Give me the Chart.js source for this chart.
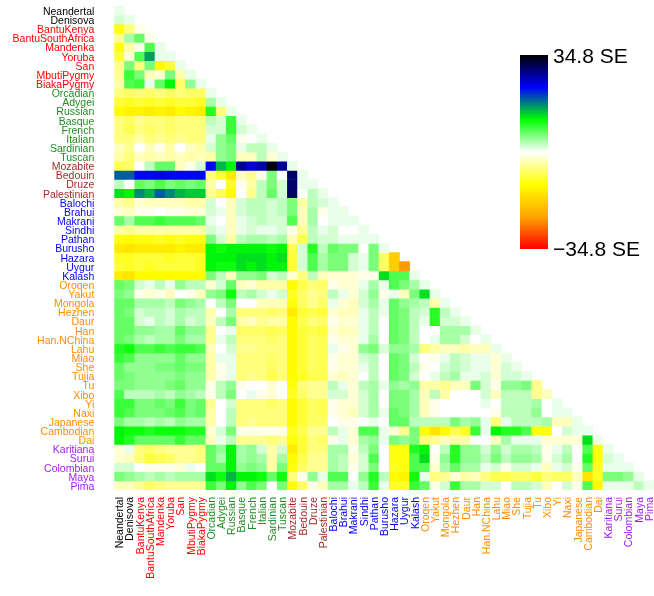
<!DOCTYPE html>
<html>
<head>
<meta charset="utf-8">
<script src="https://cdn.jsdelivr.net/npm/chart.js@4.4.1/dist/chart.umd.min.js"></script>
<style>
  html, body { margin: 0; padding: 0; background: #ffffff; }
  #wrap { width: 654px; height: 596px; position: relative; }
</style>
</head>
<body>
<div id="wrap"><canvas id="heat" width="654" height="596"></canvas></div>
<script>
// Populations, in row / column order
const populations = [
  'Neandertal', 'Denisova',
  'BantuKenya', 'BantuSouthAfrica', 'Mandenka', 'Yoruba', 'San', 'MbutiPygmy', 'BiakaPygmy',
  'Orcadian', 'Adygei', 'Russian', 'Basque', 'French', 'Italian', 'Sardinian', 'Tuscan',
  'Mozabite', 'Bedouin', 'Druze', 'Palestinian',
  'Balochi', 'Brahui', 'Makrani', 'Sindhi', 'Pathan', 'Burusho', 'Hazara', 'Uygur', 'Kalash',
  'Oroqen', 'Yakut', 'Mongola', 'Hezhen', 'Daur', 'Han', 'Han.NChina', 'Lahu', 'Miao', 'She',
  'Tujia', 'Tu', 'Xibo', 'Yi', 'Naxi', 'Japanese', 'Cambodian', 'Dai',
  'Karitiana', 'Surui', 'Colombian', 'Maya', 'Pima'
];

// Region sizes (in order) and their label colours
const regionSizes  = [2, 7, 8, 4, 9, 18, 5];
const regionColors = ['#000000', '#ff0000', '#228b22', '#a52a2a', '#0000ff', '#ff8c00', '#a020f0'];

// Statistic in SE units; row k holds columns 1..k (diagonal last)
const rowNeandertal = [1];
const rowDenisova = [2, 1];
const rowBantuKenya = [-11, -6, -1];
const rowBantuSouthAfrica = [-5, 4, 7, -1];
const rowMandenka = [-11, -4, -1, 8, 1];
const rowYoruba = [-9, -2, 8, 16, 1, 1];
const rowSan = [-5, 6, -6, 6, -12, -9, 1];
const rowMbutiPygmy = [-5, 9, 6, -3, -2, 6, -4, 1];
const rowBiakaPygmy = [-4, 8, 9, 1, 7, 12, -7, 5, 1];
const rowOrcadian = [-6, -7, -6, -7, -6, -7, -6, -7, -7, 1];
const rowAdygei = [-9, -10, -9, -10, -9, -10, -9, -9, -10, 4, 1];
const rowRussian = [-12, -13, -13, -14, -13, -14, -12, -13, -14, 10, -6, 1];
const rowBasque = [-6, -7, -5, -6, -6, -7, -6, -6, -6, 3, 2, 9, 1];
const rowFrench = [-6, -8, -6, -7, -6, -7, -6, -6, -6, 2, 2, 9, 2, 1];
const rowItalian = [-6, -6, -4, -6, -5, -6, -5, -6, -6, 1, 5, 7, -1, 0, 1];
const rowSardinian = [-3, -5, 0, -3, -1, -4, 0, -3, -4, 2, 5, 6, 1, 3, 3, 1];
const rowTuscan = [-4, -6, -3, -4, -3, -4, -3, -4, -3, -4, 5, 6, -3, -3, 3, -2, 1];
const rowMozabite = [-8, -7, 0, 3, 7, 7, -3, -1, 2, 23, 15, 12, 28, 25, 27, 34, 28, 1];
const rowBedouin = [19, 19, 23, 23, 24, 23, 23, 23, 23, -6, -9, -14, -3, -5, -1, 6, 0, 30, 1];
const rowDruze = [3, 0, 7, 6, 8, 6, 7, 6, 7, -4, 0, -10, -1, -4, 3, 6, 2, 30, 1, 1];
const rowPalestinian = [13, 12, 17, 15, 19, 17, 15, 14, 14, -5, -8, -12, 0, -5, 3, 7, 2, 30, 0, 3, 1];
const rowBalochi = [-4, -5, -2, -3, -3, -3, -3, -4, -4, 2, 0, -3, 2, 3, 3, 2, 3, 6, -4, 3, 2, 1];
const rowBrahui = [-2, -3, -1, -1, 0, -1, -1, -2, -2, 2, 1, -3, 2, 3, 3, 2, 3, 6, -3, 4, -1, 1, 1];
const rowMakrani = [7, 4, 8, 8, 9, 8, 8, 8, 7, 1, 0, -3, 1, 2, 3, 2, 2, 8, -3, 4, 0, 1, 1, 1];
const rowSindhi = [-4, -5, -4, -4, -4, -4, -4, -4, -4, 2, 1, -3, 1, 2, 1, 1, 2, -1, -5, 3, 1, 2, 0, 0, 1];
const rowPathan = [-11, -12, -11, -11, -10, -11, -10, -11, -11, 6, 2, -4, 3, 4, 4, 3, 4, -3, -8, 3, 2, 2, 1, 1, 1, 1];
const rowBurusho = [-14, -15, -14, -14, -14, -14, -13, -14, -14, 12, 11, 12, 12, 12, 12, 11, 12, -8, 2, 10, 3, 7, 6, 6, 0, 6, 1];
const rowHazara = [-10, -10, -9, -9, -9, -10, -9, -9, -10, 12, 12, 12, 13, 13, 13, 12, 13, -9, 2, 8, 4, 6, 6, 2, 1, 6, -7, -18];
const rowUygur = [-9, -10, -9, -10, -9, -9, -9, -9, -10, 12, 11, 11, 13, 12, 13, 12, 12, -9, 2, 8, 4, 6, 6, 2, 1, 6, -7, -18, -24];
const rowKalash = [-14, -15, -12, -12, -12, -12, -12, -12, -12, 6, 3, -3, 5, 5, 6, 2, 3, -2, -6, 3, -3, -2, -2, -2, -1, -1, 13, 8, 8, 1];
const rowOroqen = [7, 6, 2, 1, 3, 1, 5, 3, 3, -2, 2, 7, -3, -2, -4, -4, -4, -12, -8, -6, -7, -1, -2, -2, 1, 4, 1, 8, 6, 4, 1];
const rowYakut = [6, 5, -1, -2, -1, -3, 0, -1, -3, 5, 6, 11, 3, 4, 2, 1, 2, -10, -7, -5, -6, 3, 1, -2, 2, 5, -1, 1, -3, 6, 13, 1];
const rowMongola = [7, 7, 4, 4, 4, 3, 6, 5, 4, 0, 3, 6, 0, 0, -3, -3, -3, -11, -7, -5, -7, 1, -2, -3, 2, 4, 1, 7, 5, 4, 3, -4, 1];
const rowHezhen = [7, 6, 2, 3, 3, 2, 4, 3, 3, -4, 0, 4, -6, -6, -6, -7, -6, -14, -9, -8, -9, -2, -3, -3, 1, 3, 1, 7, 6, 3, 2, 10, 3, 1];
const rowDaur = [7, 7, 2, 1, 3, 2, 4, 2, 3, -3, 3, 6, -4, -3, -5, -4, -4, -12, -8, -6, -7, -1, -2, -2, 1, 3, 0, 7, 6, 3, 1, 10, 2, 2, 1];
const rowHan = [7, 7, 5, 5, 4, 4, 7, 5, 5, -5, 0, 1, -7, -7, -7, -8, -7, -12, -9, -8, -9, -2, -3, -3, 1, 3, 0, 7, 6, 3, 0, 0, 4, 4, 4, 1];
const rowHanNChina = [7, 6, 4, 3, 4, 4, 6, 4, 4, -5, 1, 3, -6, -6, -6, -7, -6, -12, -9, -7, -8, -1, -2, -2, 1, 4, 0, 7, 6, 3, 0, 1, 4, 4, 2, 0, 1];
const rowLahu = [10, 11, 8, 8, 9, 8, 9, 9, 8, -3, 0, 2, -5, -5, -6, -6, -6, -12, -9, -7, -8, 1, -1, -2, 5, 6, 2, 5, 5, 4, -6, -4, -3, -3, -4, -3, -3, 1];
const rowMiao = [9, 8, 5, 5, 5, 5, 7, 5, 5, -4, 1, 1, -6, -6, -6, -7, -6, -12, -9, -7, -8, -1, -2, -2, 2, 3, 0, 7, 6, 2, 0, -1, 1, 3, 2, 1, 1, -2, 1];
const rowShe = [7, 5, 5, 5, 6, 6, 7, 6, 6, -4, -1, 1, -6, -6, -6, -7, -6, -12, -9, -7, -8, -1, -2, -2, 1, 3, 0, 7, 6, 3, -1, 0, 2, 3, 2, 1, 1, -2, 2, 1];
const rowTujia = [7, 6, 5, 5, 5, 5, 6, 5, 5, -4, -1, 1, -6, -5, -6, -8, -6, -12, -10, -8, -8, -2, -3, -2, 0, 3, 0, 7, 6, 2, 0, 1, 3, 4, 1, 1, 2, -2, 2, 2, 1];
const rowTu = [6, 6, 5, 5, 5, 6, 7, 5, 5, -1, 3, 5, -1, 0, 0, -2, 0, -11, -6, -5, -5, 3, 1, -2, 3, 4, 1, 5, 4, 5, -4, -4, -5, -3, -3, 6, 2, -1, 5, 5, 6, -5];
const rowXibo = [8, 3, 3, 3, 4, 3, 5, 4, 3, -1, 3, 6, 0, 1, -1, -2, 0, -10, -7, -5, -5, 2, 2, -2, 2, 4, 0, 6, 6, 4, -3, 3, -4, 0, 0, 0, 2, -3, 3, 3, 3, -5, -3];
const rowYi = [9, 9, 6, 6, 7, 6, 9, 6, 7, -5, 0, 2, -6, -6, -6, -7, -6, -12, -9, -7, -8, -1, -2, -2, 2, 4, 0, 6, 6, 4, -3, -1, 0, 0, 0, 0, 1, 0, 3, 3, 3, 4, 0, 1];
const rowNaxi = [9, 8, 6, 6, 6, 7, 8, 6, 7, -4, 0, 3, -6, -6, -6, -6, -6, -12, -9, -7, -8, -1, -2, -3, 2, 4, 1, 7, 6, 4, -3, -1, 0, 0, 0, 0, 0, -1, 3, 3, 3, 5, 0, 1, 1];
const rowJapanese = [6, 4, 4, 3, 4, 3, 5, 4, 4, -4, 0, 3, -6, -5, -6, -6, -6, -12, -9, -7, -7, 0, -1, -1, 0, 1, 0, 7, 7, 3, 3, 3, 3, 6, 4, 5, 1, -6, 1, 3, 3, 3, 4, -3, -3, 1];
const rowCambodian = [12, 11, 11, 10, 11, 11, 11, 10, 10, -2, 2, 6, -1, -1, -1, -1, -1, -10, -8, -5, -5, 3, 1, -2, 8, 8, 1, -2, -5, 6, -11, -15, -12, -8, -10, 9, 1, 12, 10, 10, 8, -11, -11, 0, 2, 1, 1];
const rowDai = [12, 10, 7, 7, 7, 7, 9, 7, 7, -3, 1, 3, -5, -5, -5, -6, -5, -11, -9, -6, -7, -1, 1, -2, 4, 5, 1, 6, 5, 6, -6, -5, -3, -4, -4, 0, 0, -3, 4, 1, 1, 1, -2, -2, -2, -2, 13, 1];
const rowKaritiana = [-2, 1, -6, -7, -6, -5, -5, -5, -6, 7, 5, 12, 4, 5, 2, -4, 2, -14, -9, -6, -6, 4, 4, -1, 3, 6, 0, -11, -11, 10, 12, 0, 3, 10, 5, 5, 2, 5, 2, 4, 4, 3, -1, 1, 3, 0, 8, -11, 1];
const rowSurui = [-2, -3, -6, -9, -8, -7, -5, -5, -6, 7, 4, 12, 4, 5, 4, -4, 4, -12, -8, -5, -5, 4, 3, -2, 2, 8, 0, -11, -11, 8, 13, -1, 5, 10, 5, 5, 3, 6, 3, 5, 5, 4, -1, 2, 4, 0, 10, -11, 2, 1];
const rowColombian = [2, 2, 0, -1, -1, -1, -2, 1, 0, 7, 7, 12, 5, 6, 5, -4, 6, -11, -7, -5, -5, 4, 3, -1, 2, 6, 0, -10, -11, 8, 8, -2, 4, 7, 4, 4, 1, 2, -1, 2, 2, 1, -3, 1, 2, -1, 7, -10, 1, 1, 1];
const rowMaya = [6, 5, 4, 3, 4, 3, 4, 4, 4, 13, 11, 15, 12, 12, 11, 7, 11, -6, -1, 5, 1, 8, 8, 0, 5, 10, 3, -12, -13, 11, 1, -6, -5, -2, -4, -3, -6, -8, -8, -7, -7, -9, -6, -7, -7, -3, -15, -10, 6, 6, 5, 1];
const rowPima = [-3, -3, -5, -7, -6, -5, -5, -5, -5, 9, 6, 12, 5, 8, 6, 0, 6, -12, -7, -1, -3, 4, 4, 1, 3, 9, 1, -10, -10, 9, 7, -1, 2, 9, 4, 4, 2, 2, 0, 3, 3, 2, -3, 0, 2, -1, 8, -12, 1, 1, 1, 3, 1];

const matrixRows = [
  rowNeandertal, rowDenisova,
  rowBantuKenya, rowBantuSouthAfrica, rowMandenka, rowYoruba, rowSan, rowMbutiPygmy, rowBiakaPygmy,
  rowOrcadian, rowAdygei, rowRussian, rowBasque, rowFrench, rowItalian, rowSardinian, rowTuscan,
  rowMozabite, rowBedouin, rowDruze, rowPalestinian,
  rowBalochi, rowBrahui, rowMakrani, rowSindhi, rowPathan, rowBurusho, rowHazara, rowUygur, rowKalash,
  rowOroqen, rowYakut, rowMongola, rowHezhen, rowDaur, rowHan, rowHanNChina, rowLahu, rowMiao, rowShe,
  rowTujia, rowTu, rowXibo, rowYi, rowNaxi, rowJapanese, rowCambodian, rowDai,
  rowKaritiana, rowSurui, rowColombian, rowMaya, rowPima
];

// Colour-key limit (SE)
const scaleLimit = 34.8;

// red - orange - yellow - white - green - blue - black ramp
const rampStops = [
  [-34.8, [255, 0, 0]],
  [-23.2, [255, 165, 0]],
  [-11.6, [255, 255, 0]],
  [0, [255, 255, 255]],
  [11.6, [0, 255, 0]],
  [23.2, [0, 0, 255]],
  [34.8, [0, 0, 0]]
];

function rampColor(v) {
  const t = Math.max(-scaleLimit, Math.min(scaleLimit, v));
  for (let k = 1; k < rampStops.length; k++) {
    const [v0, c0] = rampStops[k - 1];
    const [v1, c1] = rampStops[k];
    if (t <= v1) {
      const f = (t - v0) / (v1 - v0);
      const c = c0.map((a, n) => Math.round(a + (c1[n] - a) * f));
      return `rgb(${c[0]},${c[1]},${c[2]})`;
    }
  }
  return 'rgb(0,0,0)';
}

const labelColors = [];
regionSizes.forEach((n, r) => { for (let k = 0; k < n; k++) labelColors.push(regionColors[r]); });

const FONT = '"Liberation Sans", Arial, Helvetica, sans-serif';

// One floating-bar dataset per row; each cell spans [row, row + 1] on the y scale
const datasets = matrixRows.map((vals, i) => ({
  data: populations.map((_, j) => (j < vals.length ? [i, i + 1] : null)),
  backgroundColor: populations.map((_, j) => (j < vals.length ? rampColor(vals[j]) : 'rgba(0,0,0,0)')),
  borderWidth: 0,
  grouped: false,
  barPercentage: 1,
  categoryPercentage: 1
}));

const colorKey = {
  id: 'colorKey',
  afterDraw(chart) {
    const ctx = chart.ctx;
    const x = 520, top = 55, w = 28, h = 194;
    const g = ctx.createLinearGradient(0, top, 0, top + h);
    rampStops.forEach(([v, c]) => {
      g.addColorStop((scaleLimit - v) / (2 * scaleLimit), `rgb(${c[0]},${c[1]},${c[2]})`);
    });
    ctx.save();
    ctx.fillStyle = g;
    ctx.fillRect(x, top, w, h);
    ctx.fillStyle = '#000000';
    ctx.font = `21px ${FONT}`;
    ctx.textAlign = 'left';
    ctx.textBaseline = 'middle';
    ctx.fillText(`${scaleLimit} SE`, 553, 57);
    ctx.fillText(`\u2212${scaleLimit} SE`, 553, 250);
    ctx.restore();
  }
};

new Chart(document.getElementById('heat'), {
  type: 'bar',
  data: { labels: populations, datasets },
  options: {
    responsive: false,
    animation: false,
    devicePixelRatio: 1,
    layout: { padding: { top: 6, right: 0, bottom: 0, left: 0 } },
    plugins: { legend: { display: false }, tooltip: { enabled: false } },
    scales: {
      x: {
        type: 'category',
        offset: true,
        grid: { display: false, drawTicks: false },
        border: { display: false },
        ticks: {
          autoSkip: false,
          minRotation: 90,
          maxRotation: 90,
          padding: 7,
          labelOffset: 1,
          font: { family: FONT, size: 10.5 },
          color: (c) => labelColors[c.index]
        },
        afterFit: (s) => { s.height = 106; s.paddingLeft = 0; s.paddingRight = 0; }
      },
      y: {
        type: 'linear',
        min: 0,
        max: populations.length,
        reverse: true,
        grid: { display: false, drawTicks: false },
        border: { display: false },
        afterBuildTicks: (s) => { s.ticks = populations.map((_, i) => ({ value: i + 0.5 })); },
        ticks: {
          autoSkip: false,
          padding: 20,
          labelOffset: 1.5,
          font: { family: FONT, size: 10.5 },
          callback: (v, i) => populations[i],
          color: (c) => labelColors[c.index]
        },
        afterFit: (s) => { s.width = 114.3; s.paddingTop = 0; s.paddingBottom = 0; }
      }
    }
  },
  plugins: [colorKey]
});
</script>
</body>
</html>
